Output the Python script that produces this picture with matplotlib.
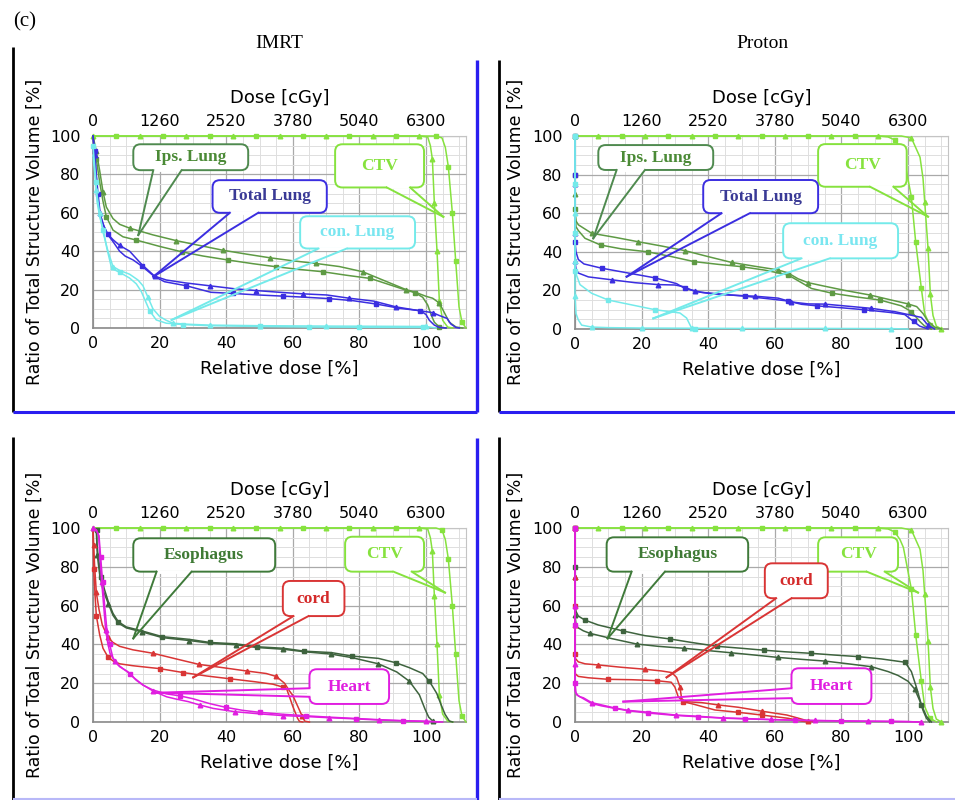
import matplotlib
matplotlib.use("Agg")
import matplotlib.pyplot as plt
from matplotlib.patches import FancyBboxPatch
from matplotlib.lines import Line2D
from matplotlib.ticker import MultipleLocator

# ---- axes ticks ----
rel_ticks = [0, 20, 40, 60, 80, 100]
dose_ticks = [0, 1260, 2520, 3780, 5040, 6300]
y_ticks = [0, 20, 40, 60, 80, 100]
plans = ["IMRT", "Proton"]

# ---- DVH curves, (relative dose %, volume %) ----
# IMRT
imrt_ctv_a = [(0, 100), (7, 100), (14, 100), (21, 100), (28, 100), (35, 100), (42, 100), (49, 100),
              (56, 100), (63, 100), (70, 100), (77, 100), (84, 100), (91, 100), (98, 100), (100.5, 99.5),
              (101.3, 95), (101.9, 88), (102.5, 65), (103.3, 40), (104, 14), (105, 4), (106.5, 0.5), (108, 0)]
imrt_ctv_b = [(0, 100), (7, 100), (14, 100), (21, 100), (28, 100), (35, 100), (42, 100), (49, 100),
              (56, 100), (63, 100), (70, 100), (77, 100), (84, 100), (91, 100), (98, 100), (103, 100),
              (104.8, 99), (105.8, 94), (106.7, 84), (107.9, 60), (108.9, 35), (109.9, 11), (110.8, 3), (112, 0)]
imrt_ips_a = [(0, 100), (1, 92), (2, 82), (3, 71), (4, 63), (6, 57), (8, 54), (11, 52), (18, 48.5),
              (25, 45.5), (32, 43), (39, 40.5), (46, 38.5), (53, 36.6), (60, 35), (67, 33.6), (74, 32),
              (81, 29.3), (87, 25), (94, 20), (97, 18.5), (100, 16.5), (102, 15.5), (104, 13), (105.5, 8),
              (107, 3), (109, 0.5), (111, 0)]
imrt_ips_b = [(0, 100), (1, 88), (2, 76), (3, 66), (4, 58), (6, 51), (9, 47.5), (13, 45.8), (20, 42.5),
              (26.6, 39.7), (33, 37.5), (40.6, 35.4), (48, 33.5), (55, 31.9), (62, 30.5), (69, 29.3),
              (76, 27.5), (83.3, 25.8), (90, 22), (94, 19.7), (96.7, 18.4), (99, 16), (100.5, 12),
              (101.5, 7), (102.5, 3), (104, 0.5), (106, 0)]
imrt_tot_a = [(0, 100), (0.5, 92), (1, 80), (1.5, 70), (2.2, 59), (3.3, 53), (4.4, 48.7), (6, 45), (8, 40),
              (9.7, 37.4), (12, 35.5), (14.7, 32.2), (18.5, 26.7), (21.5, 24.1), (28, 22), (35.4, 18.6),
              (42, 18), (49.7, 17.2), (57, 16.6), (64, 16), (71, 15.3), (78.2, 14.2), (85, 12.5),
              (92.3, 10.2), (98.3, 9), (100, 7), (101, 4), (102.5, 1.5), (104, 0.3), (106, 0)]
imrt_tot_b = [(0, 100), (0.5, 90), (1, 78), (1.5, 67), (2, 60), (3, 54), (4.4, 49), (6, 46), (8, 43),
              (11, 40), (14.7, 33), (18.5, 27), (22, 25), (27.7, 23.5), (35, 22), (42.2, 20.5), (49, 19.5),
              (56, 18.6), (63, 17.8), (70.2, 17.2), (77, 15.5), (84.3, 14), (91, 11), (98, 9), (102, 8),
              (104, 6.5), (106.3, 5), (107.5, 2), (109, 0.3), (110, 0)]
imrt_con_a = [(0, 95), (0.9, 76), (1.2, 66), (2, 58), (3.1, 51), (4.1, 42), (5.6, 31), (8, 29), (11, 26),
              (13, 23), (14.5, 19), (15.6, 14.6), (17, 9), (19, 4.2), (22, 2.5), (27, 1.8), (35, 1.2),
              (50, 0.8), (65, 0.5), (80, 0.4), (99, 0.3), (100, 0)]
imrt_con_b = [(0, 90), (1, 72), (2, 60), (3, 50), (4.5, 40), (6, 32), (8, 30), (11, 28), (13.5, 25),
              (15, 22), (16.5, 16), (18, 10), (20, 6), (22, 4), (24, 2.5), (28, 2), (35, 1.5), (50, 1.2),
              (70, 1), (100, 0.8), (103, 0)]
imrt_eso_a = [(0, 100), (1.1, 99), (1.2, 92), (1.5, 86), (2, 80), (2.5, 74.6), (3.5, 68), (4.6, 62), (6, 56),
              (7.6, 51.7), (10, 49), (14.6, 47), (20.8, 44), (28.9, 42.6), (35.1, 41), (42.9, 40.3),
              (49.2, 38.8), (57.2, 38), (63.5, 36.5), (71.5, 35.8), (77.7, 34), (85.7, 32.8), (91, 30.5),
              (95, 28), (99, 25), (101, 21), (103.2, 14.8), (104.5, 9), (105.7, 4), (107, 0.5), (108, 0)]
imrt_eso_b = [(0, 100), (1, 98), (1.3, 86), (2, 76), (3, 68), (4.6, 61), (6, 55), (7.6, 51), (10, 48.5),
              (14.6, 46.5), (20.8, 43.5), (28.9, 42), (35.1, 40.6), (42.9, 39.8), (49.2, 38.4), (57.2, 37.5),
              (63.5, 36.2), (71.5, 35), (77.7, 33.2), (85.7, 30), (91.2, 25.8), (95, 21), (98, 14),
              (99.7, 6.6), (100.8, 2.5), (102, 0.5), (103, 0)]
imrt_cord_a = [(0, 100), (0.2, 91), (0.5, 80), (1, 66.8), (1.8, 58), (2.8, 50), (4.5, 43.6), (6, 41), (8, 39),
               (12, 37.2), (18.1, 35.4), (25, 32.5), (31.8, 29.7), (39, 28), (46.1, 26.3), (52, 25),
               (55, 23.5), (57.5, 20), (59, 16), (60, 13.7), (61.5, 8), (62.8, 3), (63.6, 0.4), (65, 0)]
imrt_cord_b = [(0, 100), (0.2, 79), (0.6, 66), (1, 54.8), (2, 45), (3, 38), (4.5, 33.5), (6, 31.5), (8, 30),
               (12, 29), (20.1, 27.5), (27, 25.5), (34.2, 23.7), (41, 22.3), (48.4, 20.8), (54, 19.5),
               (57, 18), (58.2, 16.8), (59.2, 12), (60, 8), (60.6, 5.5), (61.4, 2), (62, 0.3), (63, 0)]
imrt_heart_a = [(0, 100), (1, 99), (1.7, 96), (2.1, 85), (2.6, 72.3), (3.2, 60), (3.8, 47.4), (4.4, 41),
                (5.1, 35.4), (6.5, 31.5), (8, 28.5), (10.4, 26), (12.5, 22.5), (15.1, 19), (18, 16),
                (22.1, 13), (25, 11.8), (28.6, 10.5), (32, 8.8), (36.1, 7), (42.6, 5.3), (50, 4.2), (57, 3.3),
                (64, 2.8), (71, 2.2), (79, 1.6), (86, 1), (93, 0.6), (100, 0.3), (104, 0)]
imrt_heart_b = [(0, 100), (1, 99), (1.8, 96), (2.3, 85), (2.9, 72), (3.5, 60), (4.2, 47), (5, 40), (6, 33),
                (7.5, 29.5), (9, 27.5), (11, 25), (13, 21.5), (15, 19), (18, 16.5), (22, 14.5), (26, 13.5),
                (30, 12), (35, 9.5), (40, 7.5), (45, 6), (50, 5), (57, 4), (64, 3.2), (71, 2.5), (79, 1.8),
                (86, 1.2), (93, 0.7), (100, 0.4), (105, 0)]

# Proton
prot_ctv_a = [(0, 100), (7, 100), (14, 100), (21, 100), (28, 100), (35, 100), (42, 100), (49, 100),
              (56, 100), (63, 100), (70, 100), (77, 100), (84, 100), (91, 100), (94, 99.5), (96, 98),
              (97.6, 94), (98.6, 90), (99.5, 82), (101, 68.5), (102.3, 45), (104, 21), (105, 8),
              (106.5, 2), (108.6, 0)]
prot_ctv_b = [(0, 100), (7, 100), (14, 100), (21, 100), (28, 100), (35, 100), (42, 100), (49, 100),
              (56, 100), (63, 100), (70, 100), (77, 100), (84, 100), (91, 100), (98, 100), (101, 99),
              (103.6, 89), (104.5, 78), (105, 66), (106, 42), (106.7, 18), (107.5, 7), (108.5, 1.5), (110, 0)]
prot_ips_a = [(0, 100), (0, 85), (0, 70), (0, 60), (0.3, 56), (1, 54), (5, 49.6), (12, 47.5), (19, 45.2),
              (26, 43), (33, 40.6), (40, 37.5), (47, 34.5), (54, 32.5), (61, 30.6), (64, 29), (67, 26),
              (70, 24), (74.6, 22.3), (81, 20), (88.6, 17.6), (95, 15), (100, 13), (102.6, 11.6),
              (104.5, 8), (106, 4), (108, 1), (110, 0)]
prot_ips_b = [(0, 100), (0, 80), (0, 62), (0.3, 53), (1, 51), (3, 47), (7.7, 43.5), (14, 41.5), (21.8, 40),
              (29, 37.5), (35.8, 34.9), (43, 33.5), (50, 32.3), (57, 30.5), (64, 28), (67, 25), (71, 21),
              (77.3, 18.5), (85, 16.5), (91.6, 15), (98, 12), (101, 9), (103.6, 3.8), (105, 1.5), (107, 0)]
prot_tot_a = [(0, 100), (0, 80), (0, 60), (0, 45), (0.3, 40), (1, 36), (2.7, 33.7), (8, 31.5), (16, 29),
              (24, 26.5), (30.5, 23.5), (33, 21), (38, 19), (44, 18), (51, 17), (58.4, 15.6), (64, 14.5),
              (68, 12.8), (72.6, 12), (80, 11), (86.8, 10), (95, 8.5), (99, 7.5), (101.7, 3.9),
              (103.5, 1.5), (106, 0)]
prot_tot_b = [(0, 100), (0, 75), (0, 50), (0, 35), (0.3, 31), (1, 29), (4, 27), (11, 25.5), (18, 24),
              (25, 23), (30, 22.8), (32.4, 22), (36, 19.5), (40, 18.5), (46.6, 17.6), (54, 17), (61, 16),
              (65, 14), (70, 13), (75, 12.9), (82, 11.8), (89, 10.7), (96, 9), (100, 7.5), (104, 6),
              (106, 2), (108, 0)]
prot_con_a = [(0, 100), (0, 75), (0, 50), (0, 30), (1.5, 23), (5, 18.5), (10, 15), (17, 12.5), (24, 10),
              (31.5, 8.3), (33.5, 5.7), (35, 0.5), (36, 0)]
prot_con_b = [(0, 100), (0, 60), (0, 35), (0, 17), (0.3, 8), (1, 4.7), (2, 2), (5, 1), (10, 0.7), (20, 0.5),
              (35, 0.4), (50, 0.3), (75, 0.3), (95, 0.2), (100, 0)]
prot_eso_a = [(0, 100), (0, 80), (0, 62), (0.3, 57), (1, 54.6), (3, 52.5), (7, 50), (14.5, 46.9), (21, 44.5),
              (28.5, 42.8), (35, 41), (42.7, 39), (50, 38), (56.8, 37), (63, 36.2), (70.9, 35.4), (78, 34.5),
              (85, 33.7), (92, 32.5), (99.1, 30.8), (101, 26), (102.5, 18), (104, 9), (105.5, 3), (107, 0)]
prot_eso_b = [(0, 100), (0, 75), (0, 55), (0.3, 50), (1, 48.5), (2.5, 47), (4.5, 45.7), (11, 43), (18.5, 40.2),
              (25, 39), (32.7, 38), (40, 36.8), (46.8, 35.7), (54, 34.5), (60.9, 33.3), (68, 32.3),
              (75.1, 31.4), (82, 30), (89, 28.5), (94, 26), (97, 24), (100, 21), (102, 17), (103.5, 11),
              (104.5, 6), (105.5, 2), (106.5, 0)]
prot_cord_a = [(0, 100), (0, 75), (0, 50), (0, 33), (1, 31), (3, 30), (7, 29.4), (14, 28.2), (21, 27.2),
               (26, 26.3), (29, 25.5), (30.5, 23), (31.5, 18.2), (32, 12.2), (33, 10.5), (38, 10), (43, 8.8),
               (49, 7.6), (56, 5.6), (63.6, 3.6), (67, 2), (70, 0.5), (72, 0)]
prot_cord_b = [(0, 100), (0, 60), (0, 35), (0, 25), (1, 23.5), (4, 22.8), (10, 22), (17, 21.8), (24.5, 21.3),
               (28.9, 20.5), (30, 18), (31, 13), (32.5, 10.5), (36, 9), (42, 6.2), (49, 5), (56, 3.6),
               (64, 1.9), (68, 0.5), (70, 0)]
prot_heart_a = [(0, 100), (0, 60), (0, 30), (0, 16), (0.5, 14), (1.5, 13), (2.5, 12.5), (5, 10), (8, 8.8),
                (12, 7.2), (16, 6), (22.3, 5), (30.3, 3.6), (36.5, 3), (44.4, 2.1), (50.8, 1.8), (58.8, 1.3),
                (65, 1), (72, 0.8), (80, 0.6), (88, 0.4), (95, 0.3), (100, 0.2), (104, 0)]
prot_heart_b = [(0, 100), (0, 50), (0, 20), (0.3, 15), (1, 13.5), (2.5, 12), (5, 9.5), (8, 8.3), (12, 7),
                (16, 5.8), (22, 4.6), (30, 3.4), (37, 2.7), (44, 2), (51, 1.6), (59, 1.2), (66, 0.9), (73, 0.7),
                (80, 0.5), (88, 0.4), (95, 0.3), (100, 0.2), (103, 0)]

# ---- colours ----
c_ctv = "#86e23e"
c_ips = "#5e9a44"
c_tot = "#3b2ee0"
c_con = "#74eaea"
c_eso = "#3e633e"
c_cord = "#d93535"
c_heart = "#e01ee0"
c_frame = "#2a1ef0"

W, H = 955, 800
fig = plt.figure(figsize=(W / 100, H / 100), dpi=100)


def rect(l, r, t, b):
    return [l / W, 1 - b / H, (r - l) / W, (b - t) / H]


def callout(ax, text, box, base, tip, ec, tc):
    x0, x1, y0, y1 = box
    ax.add_patch(FancyBboxPatch((x0, y0), x1 - x0, y1 - y0,
                                boxstyle="round,pad=0,rounding_size=2.2",
                                mutation_aspect=1.73, fc="white", ec=ec, lw=1.4, zorder=5))
    ax.plot([base[0][0], base[1][0]], [base[0][1], base[1][1]], color="white", lw=2.8,
            solid_capstyle="butt", zorder=5.5)
    for bx, by in base:
        ax.plot([bx, tip[0]], [by, tip[1]], color=ec, lw=1.4, zorder=6, clip_on=False)
    ax.text((x0 + x1) / 2, (y0 + y1) / 2, text, ha="center", va="center", color=tc,
            family="Liberation Serif", weight="bold", fontsize=12.5, zorder=7)


def panel(r, curves, notes):
    ax = fig.add_axes(r)
    ax.set_xlim(0, 112)
    ax.set_ylim(0, 100)
    ax.set_xticks(rel_ticks)
    ax.set_yticks(y_ticks)
    ax.xaxis.set_minor_locator(MultipleLocator(5))
    ax.yaxis.set_minor_locator(MultipleLocator(5))
    ax.grid(which="minor", color="#dedede", lw=0.7)
    ax.grid(which="major", color="#a9a9a9", lw=0.9)
    ax.set_axisbelow(True)
    ax.tick_params(which="both", length=0, labelsize=11.5, pad=6)
    ax.tick_params(axis="y", pad=9)
    for s in ["top", "right"]:
        ax.spines[s].set_color("#c4c4c4")
    for s in ["left", "bottom"]:
        ax.spines[s].set_color("#8a8a8a")
        ax.spines[s].set_linewidth(1.2)
    ax.set_xlabel("Relative dose [%]", fontsize=13, labelpad=6)

    top = ax.twiny()
    top.set_xlim(0, 112)
    top.set_xticks(rel_ticks)
    top.set_xticklabels([str(d) for d in dose_ticks])
    top.tick_params(length=0, labelsize=11.5, pad=5)
    for s in top.spines.values():
        s.set_visible(False)
    top.set_xlabel("Dose [cGy]", fontsize=13, labelpad=8)

    for pts, col, mk, off in curves:
        xs = [p[0] for p in pts]
        ys = [p[1] for p in pts]
        ax.plot(xs, ys, color=col, lw=1.1, marker=mk, ms=3.3 if mk == "^" else 2.6,
                markevery=(off, 0.11), clip_on=False, zorder=3)
    for n in notes:
        callout(ax, *n)
    return ax


lung_imrt = [(imrt_ctv_a, c_ctv, "^", 0.0), (imrt_ctv_b, c_ctv, "s", 0.055),
             (imrt_ips_a, c_ips, "^", 0.03), (imrt_ips_b, c_ips, "s", 0.08),
             (imrt_tot_a, c_tot, "s", 0.02), (imrt_tot_b, c_tot, "^", 0.07),
             (imrt_con_a, c_con, "s", 0.0), (imrt_con_b, c_con, "^", 0.05)]
lung_prot = [(prot_ctv_a, c_ctv, "s", 0.0), (prot_ctv_b, c_ctv, "^", 0.055),
             (prot_ips_a, c_ips, "^", 0.03), (prot_ips_b, c_ips, "s", 0.08),
             (prot_tot_a, c_tot, "s", 0.02), (prot_tot_b, c_tot, "^", 0.07),
             (prot_con_a, c_con, "s", 0.0), (prot_con_b, c_con, "^", 0.05)]
oar_imrt = [(imrt_ctv_a, c_ctv, "^", 0.0), (imrt_ctv_b, c_ctv, "s", 0.055),
            (imrt_eso_a, c_eso, "s", 0.02), (imrt_eso_b, c_eso, "^", 0.07),
            (imrt_cord_a, c_cord, "^", 0.03), (imrt_cord_b, c_cord, "s", 0.08),
            (imrt_heart_a, c_heart, "^", 0.0), (imrt_heart_b, c_heart, "s", 0.05)]
oar_prot = [(prot_ctv_a, c_ctv, "s", 0.0), (prot_ctv_b, c_ctv, "^", 0.055),
            (prot_eso_a, c_eso, "s", 0.02), (prot_eso_b, c_eso, "^", 0.07),
            (prot_cord_a, c_cord, "^", 0.03), (prot_cord_b, c_cord, "s", 0.08),
            (prot_heart_a, c_heart, "^", 0.0), (prot_heart_b, c_heart, "s", 0.05)]

# callout layout: text, box (x0, x1, y0, y1), base points, tip, edge colour, text colour
notes_tl = [("Ips. Lung", (12.1, 46.6, 82.2, 95.7), [(18.1, 82.2), (26.6, 82.2)], (13.6, 48.4), "#4f8a4f", "#4b8a36"),
            ("CTV", (72.7, 99.4, 73.2, 95.7), [(88.2, 73.2), (95.2, 73.2)], (105.2, 57.9), c_ctv, c_ctv),
            ("Total Lung", (35.9, 70.2, 60, 77), [(41.1, 60), (49.6, 60)], (18.1, 26.7), c_tot, "#3a3a96"),
            ("con. Lung", (62.2, 96.7, 41.4, 58.2), [(67.7, 41.4), (76.2, 41.4)], (23.6, 4.2), c_con, "#7ae6f0")]
notes_tr = [("Ips. Lung", (7, 41.5, 82.4, 95.3), [(12.5, 82.4), (21, 82.4)], (5.5, 47), "#4f8a4f", "#4b8a36"),
            ("CTV", (73, 99.6, 73.7, 95.8), [(88.6, 73.7), (95.6, 73.7)], (106, 58.2), c_ctv, c_ctv),
            ("Total Lung", (38.5, 73, 60, 77.2), [(44, 60), (52.5, 60)], (15.5, 27.1), c_tot, "#3a3a96"),
            ("con. Lung", (62.5, 97, 36.6, 54.8), [(68, 36.6), (76.5, 36.6)], (23.5, 5.5), c_con, "#7ae6f0")]
notes_bl = [("Esophagus", (12.1, 54.7, 77.5, 94.7), [(19.1, 77.5), (29.6, 77.5)], (12.1, 43.1), "#3f7a3a", "#3f7a35"),
            ("CTV", (75.7, 99.4, 77.5, 95.5), [(90.2, 77.5), (95.7, 77.5)], (105.7, 66.7), c_ctv, c_ctv),
            ("cord", (57, 75.5, 54.6, 72.7), [(60.2, 54.6), (64.7, 54.6)], (30.1, 23), c_cord, "#d42a2a"),
            ("Heart", (65, 88.9, 9.3, 27.2), [(65, 17.4), (65, 13)], (19.1, 15.1), c_heart, c_heart)]
notes_br = [("Esophagus", (9.5, 52, 77.5, 95.2), [(17, 77.5), (27, 77.5)], (9.8, 43.1), "#3f7a3a", "#3f7a35"),
            ("CTV", (73, 97, 77.5, 95.2), [(87.6, 77.5), (93, 77.5)], (103, 66.7), c_ctv, c_ctv),
            ("cord", (57, 75.9, 63.8, 81.8), [(60.4, 63.8), (65, 63.8)], (27.5, 23), c_cord, "#d42a2a"),
            ("Heart", (65, 89, 9.3, 27.7), [(65, 17.4), (65, 12.3)], (14.5, 10.5), c_heart, c_heart)]

panel(rect(93, 466, 136, 328), lung_imrt, notes_tl)
panel(rect(575, 948, 136, 329), lung_prot, notes_tr)
panel(rect(93, 466, 528, 722), oar_imrt, notes_bl)
panel(rect(575, 948, 528, 722), oar_prot, notes_br)

# titles and y labels
fig.text(25 / W, 1 - 22 / H, "(c)", family="Liberation Serif", fontsize=15, ha="center", va="center")
fig.text(279 / W, 1 - 43 / H, plans[0], family="Liberation Serif", fontsize=14, ha="center", va="center")
fig.text(762 / W, 1 - 43 / H, plans[1], family="Liberation Serif", fontsize=14, ha="center", va="center")
ylab = "Ratio of Total Structure Volume [%]"
for x, y in [(35, 232), (516, 232), (35, 625), (516, 625)]:
    fig.text(x / W, 1 - y / H, ylab, rotation=90, fontsize=12.5, ha="center", va="center")


# panel frames (pixel coordinates)
def fline(xs, ys, col, lw):
    fig.add_artist(Line2D([x / W for x in xs], [1 - y / H for y in ys], color=col, lw=lw,
                          transform=fig.transFigure, solid_capstyle="butt"))


fline([12.7, 12.7], [47, 412], "black", 2.0)
fline([12.7, 477], [411.5, 411.5], c_frame, 2.2)
fline([477, 477], [60, 412], c_frame, 2.4)
fline([498.5, 498.5], [60, 412], "black", 2.0)
fline([498.5, 955], [411.5, 411.5], c_frame, 2.2)
fline([12.7, 12.7], [437, 800], "black", 2.0)
fline([477, 477], [438, 800], c_frame, 2.4)
fline([12.7, 477], [798.5, 798.5], "#b8b8f8", 1.5)
fline([498.5, 498.5], [437, 800], "black", 2.0)
fline([498.5, 955], [798.5, 798.5], "#b8b8f8", 1.5)

fig.savefig("out.png", dpi=100)
